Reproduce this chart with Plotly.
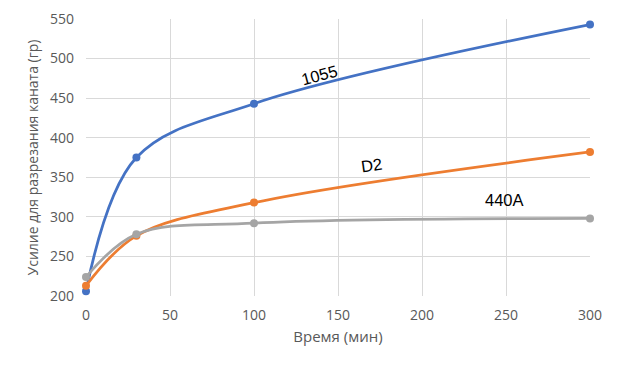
import plotly.graph_objects as go

time_min = [0, 30, 100, 300]
s1055 = [206, 375, 443, 543]
sD2 = [213, 276, 318, 382]
s440A = [224, 278, 292, 298]

series = [("1055", s1055, "#4472C4"), ("D2", sD2, "#ED7D31"), ("440A", s440A, "#A5A5A5")]

fig = go.Figure()
for name, vals, col in series:
    fig.add_trace(go.Scatter(x=time_min, y=vals, name=name, mode="lines+markers",
                             line=dict(color=col, width=2.75, shape="spline", smoothing=1.0),
                             marker=dict(color=col, size=8), cliponaxis=False))

labels = [("1055", 139, 479, -15), ("D2", 170, 365, -8), ("440A", 249, 321, 0)]
for txt, x, y, ang in labels:
    fig.add_annotation(x=x, y=y, text=txt, showarrow=False, textangle=ang,
                       font=dict(family="Liberation Sans, Arial, sans-serif", size=16.5, color="#000000"))

# the page body adds an 8px offset, margins compensate for it
fig.update_layout(
    width=621, height=373,
    margin=dict(l=78, r=39, t=11, b=85),
    plot_bgcolor="white", paper_bgcolor="white",
    showlegend=False,
    font=dict(family="Open Sans, sans-serif", color="#595959", size=14),
    xaxis=dict(range=[0, 300], tickvals=[0, 50, 100, 150, 200, 250, 300],
               showgrid=True, gridcolor="#D9D9D9", gridwidth=1, zeroline=False,
               showline=False, ticks="", ticklabelstandoff=9, automargin=False,
               title=dict(text="Время (мин)", font=dict(size=15, color="#595959"), standoff=8)),
    yaxis=dict(range=[200, 550], tickvals=[200, 250, 300, 350, 400, 450, 500, 550],
               showgrid=True, gridcolor="#D9D9D9", gridwidth=1, zeroline=False,
               showline=False, ticks="", ticklabelstandoff=11, automargin=False,
               title=dict(text="Усилие для разрезания каната (гр)", font=dict(size=14, color="#595959"), standoff=8)),
)
fig.write_html("out.html")
